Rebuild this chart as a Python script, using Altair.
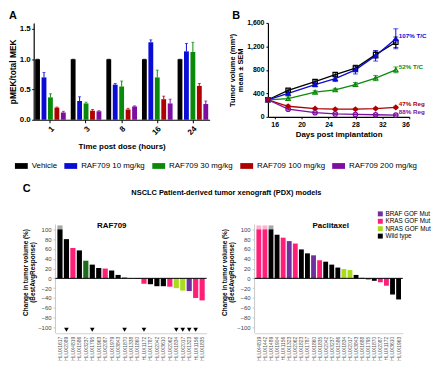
import altair as alt
import pandas as pd

FONT = "Liberation Sans"

panel_letters = ["A", "B", "C"]

# ---------------- Panel A : pMEK / total MEK ----------------
times = ["1", "3", "8", "16", "24"]
series = ["Vehicle", "RAF709 10 mg/kg", "RAF709 30 mg/kg", "RAF709 100 mg/kg", "RAF709 200 mg/kg"]
series_colors = ["#000000", "#0B0BD6", "#0A8A0A", "#B00000", "#7D0E9F"]

a_vehicle = [1.00, 1.00, 1.00, 1.00, 1.00]
a_10 = [0.70, 0.31, 0.58, 1.28, 1.13]
a_30 = [0.37, 0.27, 0.55, 0.70, 1.12]
a_100 = [0.20, 0.15, 0.17, 0.34, 0.56]
a_200 = [0.12, 0.14, 0.22, 0.27, 0.26]
a_err_vehicle = [0.0, 0.0, 0.0, 0.0, 0.0]
a_err_10 = [0.08, 0.07, 0.02, 0.04, 0.13]
a_err_30 = [0.06, 0.02, 0.09, 0.12, 0.16]
a_err_100 = [0.01, 0.02, 0.02, 0.05, 0.04]
a_err_200 = [0.02, 0.01, 0.01, 0.07, 0.05]
a_yticks = [0, 0.5, 1.0, 1.5]

# ---------------- Panel B : tumor volume ----------------
days = [15, 18, 22, 25, 28, 31, 34]
b_vehicle = [290, 450, 600, 720, 830, 1060, 1270]
b_10 = [290, 400, 550, 650, 800, 1040, 1330]
b_30 = [290, 310, 420, 460, 550, 660, 800]
b_100 = [290, 180, 140, 130, 130, 140, 160]
b_200 = [290, 130, 70, 50, 40, 35, 30]
b_sem_vehicle = [20, 25, 30, 35, 50, 60, 90]
b_sem_10 = [20, 40, 40, 50, 70, 90, 170]
b_sem_30 = [20, 30, 25, 25, 35, 45, 50]
b_sem_100 = [15, 20, 15, 15, 15, 15, 20]
b_sem_200 = [15, 15, 10, 10, 10, 10, 10]
b_end_labels = ["", "107% T/C", "52% T/C", "47% Reg", "88% Reg"]
b_shapes = ["square", "triangle-up", "triangle-up", "diamond", "circle"]
b_filled = ["RAF709 10 mg/kg", "RAF709 100 mg/kg"]
b_xticks = [16, 20, 24, 28, 32, 36]
b_yticks = [0, 400, 800, 1200, 1600]

# ---------------- Panel C : PDX waterfalls ----------------
c_header = "NSCLC Patient-derived tumor xenograft (PDX) models"
c_types = ["BRAF GOF Mut", "KRAS GOF Mut", "NRAS GOF Mut", "Wild type", "Other"]
c_type_colors = ["#7030A0", "#FF1F78", "#A8DC1C", "#000000", "#1C6E1C"]
c_yticks = list(range(-100, 101, 20))

raf_models = ["HLUX1617", "HLUX2089", "HLUX4819", "HLUX1586", "HLUX3237", "HLUX1795",
              "HLUX1963", "HLUX2087", "HLUX1979", "HLUX3843", "HLUX1870", "HLUX1338",
              "HLUX1860", "HLUX1172", "HLUX1787", "HLUX2042", "HLUX3610", "HLUX2062",
              "HLUX1834", "HLUX2017", "HLUX1323", "HLUX1156", "HLUX1835"]
raf_values = [108, 80, 62, 57, 36, 28, 21, 20, 16, 7, 1.5, -0.5, -1, -11, -12, -16, -16,
              -17, -20, -25, -26, -40, -45]
raf_types = ["Wild type", "Wild type", "KRAS GOF Mut", "Wild type", "Other", "Wild type",
             "Wild type", "KRAS GOF Mut", "Wild type", "Wild type", "Wild type", "Wild type",
             "Wild type", "KRAS GOF Mut", "Wild type", "Wild type", "Wild type", "KRAS GOF Mut",
             "NRAS GOF Mut", "NRAS GOF Mut", "BRAF GOF Mut", "KRAS GOF Mut", "KRAS GOF Mut"]
raf_marked = ["HLUX2089", "HLUX1795", "HLUX1870", "HLUX1172", "HLUX1834", "HLUX2017",
              "HLUX1323", "HLUX1156"]

pac_models = ["HLUX4819", "HLUX1442", "HLUX1489", "HLUX1904", "HLUX1156", "HLUX1323",
              "HLUX2062", "HLUX1823", "HLUX1787", "HLUX1860", "HLUX1835", "HLUX2042",
              "HLUX3237", "HLUX1586", "HLUX1834", "HLUX2017", "HLUX3843", "HLUX1688",
              "HLUX1795", "HLUX1870", "HLUX2087", "HLUX1172", "HLUX3610", "HLUX1963"]
pac_values = [108, 108, 108, 89, 83, 76, 71, 59, 51, 47, 37, 34, 28, 22, 19, 17, 7, 1,
              -2, -5, -8, -15, -33, -43]
pac_types = ["KRAS GOF Mut", "KRAS GOF Mut", "Wild type", "Wild type", "KRAS GOF Mut",
             "BRAF GOF Mut", "KRAS GOF Mut", "Wild type", "Wild type", "BRAF GOF Mut",
             "KRAS GOF Mut", "Wild type", "Wild type", "Wild type", "NRAS GOF Mut",
             "NRAS GOF Mut", "Wild type", "Wild type", "Wild type", "Wild type",
             "KRAS GOF Mut", "KRAS GOF Mut", "Wild type", "Wild type"]
pac_marked = []

# ================= build tables =================
rowsA = []
for s, vals, errs in zip(series, [a_vehicle, a_10, a_30, a_100, a_200],
                         [a_err_vehicle, a_err_10, a_err_30, a_err_100, a_err_200]):
    for t, v, e in zip(times, vals, errs):
        rowsA.append({"time": t, "series": s, "value": v, "hi": v + e})
dfA = pd.DataFrame(rowsA)

rowsB = []
for s, vals, sems, lab in zip(series, [b_vehicle, b_10, b_30, b_100, b_200],
                              [b_sem_vehicle, b_sem_10, b_sem_30, b_sem_100, b_sem_200],
                              b_end_labels):
    for i, (d, v, e) in enumerate(zip(days, vals, sems)):
        rowsB.append({"day": d, "series": s, "vol": v, "lo": max(v - e, 0), "hi": v + e,
                      "label": lab if i == len(days) - 1 else ""})
dfB = pd.DataFrame(rowsB)

letters_df = pd.DataFrame({"letter": panel_letters})
series_scale = alt.Scale(domain=series, range=series_colors)
color_ab = alt.Color("series:N", sort=series, scale=series_scale, legend=None)


def panel_letter(letter, x, y, baseline="top"):
    return alt.Chart(letters_df).transform_filter(
        alt.datum.letter == letter
    ).mark_text(align="left", baseline=baseline, fontSize=11, fontWeight="bold",
                font=FONT, color="black").encode(text="letter:N", x=alt.value(x),
                                                  y=alt.value(y))


# ----- Panel A -----
xA = alt.X("time:N", sort=times,
           scale=alt.Scale(paddingInner=0.14, paddingOuter=0.04),
           axis=alt.Axis(title="Time post dose (hours)", labelAngle=315, labelPadding=2,
                         labelFontSize=8, tickSize=3, labelOverlap=False, titlePadding=6))
xoA = alt.XOffset("series:N", sort=series, scale=alt.Scale(paddingInner=0.25))
yA = alt.Y("value:Q", scale=alt.Scale(domain=[0, 1.5]),
           axis=alt.Axis(values=a_yticks, tickCount=len(a_yticks), format=".1f",
                         title="pMEK/total MEK", titleFontSize=8.5, labelFontSize=8,
                         tickSize=2, labelPadding=1.5, titlePadding=2, labelOverlap=False))
baseA = alt.Chart(dfA)
barsA = baseA.mark_bar().encode(x=xA, xOffset=xoA, y=yA, color=color_ab)
errA = baseA.mark_rule(strokeWidth=1).encode(x=xA, xOffset=xoA, y="value:Q", y2="hi:Q",
                                             color=color_ab)
capA = baseA.mark_tick(thickness=1, size=3).encode(x=xA, xOffset=xoA, y="hi:Q",
                                                   color=color_ab)
chartA = alt.layer(barsA, errA, capA, panel_letter("A", -25, -13)).properties(
    width=178, height=98)

# ----- Panel B -----
xB = alt.X("day:Q", scale=alt.Scale(domain=[15, 36], nice=False, zero=False),
           axis=alt.Axis(values=b_xticks, tickCount=len(b_xticks),
                         title="Days post implantation", labelFontSize=7, tickSize=2,
                         labelPadding=2, labelOverlap=False))
yB = alt.Y("vol:Q", scale=alt.Scale(domain=[0, 1600]),
           axis=alt.Axis(values=b_yticks, tickCount=len(b_yticks), format=",.0f",
                         title=["Tumor volume (mm³)", "mean ± SEM"], titleFontSize=7.5,
                         titleLineHeight=8, labelFontSize=7, tickSize=2, labelPadding=2,
                         titlePadding=2, labelOverlap=False))
shapeB = alt.Shape("series:N", scale=alt.Scale(domain=series, range=b_shapes), legend=None)
baseB = alt.Chart(dfB)
lineB = baseB.mark_line(strokeWidth=1.3).encode(x=xB, y=yB, color=color_ab)
errB = baseB.mark_rule(strokeWidth=1).encode(x=xB, y=alt.Y("lo:Q"), y2="hi:Q", color=color_ab)
capLoB = baseB.mark_tick(orient="horizontal", size=5, thickness=1).encode(
    x=xB, y=alt.Y("lo:Q"), color=color_ab)
capHiB = baseB.mark_tick(orient="horizontal", size=5, thickness=1).encode(
    x=xB, y=alt.Y("hi:Q"), color=color_ab)
ptsB = baseB.mark_point(filled=False, size=20, strokeWidth=1.2, opacity=1).encode(
    x=xB, y=yB, color=color_ab, shape=shapeB)
ptsFB = baseB.transform_filter(
    alt.FieldOneOfPredicate(field="series", oneOf=b_filled)
).mark_point(filled=True, size=20, opacity=1).encode(x=xB, y=yB, color=color_ab, shape=shapeB)
labB = baseB.transform_filter("datum.label != ''").mark_text(
    align="left", dx=3, dy=-3, fontSize=6.3, fontWeight="bold", font=FONT
).encode(x=xB, y=yB, text="label:N", color=color_ab)
chartB = alt.layer(errB, capLoB, capHiB, lineB, ptsB, ptsFB, labB,
                   panel_letter("B", -36, -13)).properties(width=143, height=95)

rowAB = alt.hconcat(chartA, chartB, spacing=19)

# ----- legend strip + panel C headings -----
legend_df = pd.DataFrame({"series": series})
legend_marks = alt.Chart(legend_df).mark_square(size=0, opacity=0).encode(
    color=alt.Color("series:N", sort=series, scale=series_scale,
                    legend=alt.Legend(title=None, orient="none", legendX=-19, legendY=0,
                                      direction="horizontal",
                                      symbolType="M-1,-0.45H1V0.45H-1Z", symbolSize=169,
                                      symbolStrokeWidth=0, symbolOpacity=1,
                                      labelFont=FONT, labelFontSize=8, labelColor="black",
                                      labelOffset=4, columnPadding=7, padding=0)))
head_df = pd.DataFrame({"header": [c_header]})
header_c = alt.Chart(head_df).mark_text(
    align="center", baseline="alphabetic", fontSize=7.5, fontWeight="bold", font=FONT,
    color="black").encode(text="header:N", x=alt.value(195), y=alt.value(36))
legendRow = alt.layer(legend_marks, panel_letter("C", -11, 33.5, "alphabetic"),
                      header_c).properties(width=1, height=43)


# ----- Panel C -----
def waterfall(models, values, types, marked, name, width, left, title_dx, legend):
    df = pd.DataFrame({"model": models, "value": values, "type": types})
    df["marked"] = df["model"].isin(marked)
    base = alt.Chart(df)
    color = alt.Color("type:N", scale=alt.Scale(domain=c_types, range=c_type_colors),
                      legend=legend)
    x = alt.X("model:N", sort=models, title=None,
              scale=alt.Scale(paddingInner=0.2, paddingOuter=0.3, range=[left, width]),
              axis=alt.Axis(labelAngle=270, labelFontSize=5, labelColor="#555",
                            labelFontWeight="normal", ticks=False, domainColor="#d0d0d0",
                            domainWidth=1, labelPadding=3, labelOverlap=False))
    y = alt.Y("shown:Q", scale=alt.Scale(domain=[-112, 138], nice=False),
              axis=alt.Axis(values=c_yticks, tickCount=len(c_yticks),
                            title=["Change in tumor volume (%)", "(BestAvgResponse)"],
                            labelFontSize=6, labelFontWeight="normal", labelColor="#444",
                            domain=False, tickColor="#c8c8c8", tickSize=2.5,
                            titleFontSize=6.5, titleLineHeight=7.5, labelPadding=2,
                            titlePadding=2, labelOverlap=False, offset=-left))
    bars = base.transform_calculate(shown="min(datum.value, 100)").mark_bar().encode(
        x=x, y=y, color=color)
    over = base.transform_filter("datum.value > 100").transform_calculate(
        shown="100").mark_bar(opacity=0.35).encode(x=x, y=y, y2="value:Q", color=color)
    summary = base.transform_aggregate(n="count()")
    zero = summary.mark_rule(color="black", strokeWidth=1).encode(
        y=alt.datum(0), x=alt.value(left), x2=alt.value(width))
    yline = summary.mark_rule(color="#c8c8c8", strokeWidth=1).encode(
        x=alt.value(left), y=alt.datum(110), y2=alt.datum(-112))
    layers = [yline, bars, over, zero]
    if marked:
        tri = base.transform_filter("datum.marked").mark_point(
            shape="triangle-down", filled=True, color="black", size=22, opacity=1
        ).encode(x=x, y=alt.datum(-105))
        layers.append(tri)
    return alt.layer(*layers).properties(
        width=width, height=124,
        title=alt.TitleParams(name, fontSize=8, fontWeight="bold", offset=-20,
                              dx=title_dx, anchor="middle", frame="group"),
    )


legend_c = alt.Legend(title=None, orient="none", legendX=124, legendY=0,
                      values=c_types[:4], symbolType="square", symbolSize=25,
                      symbolStrokeWidth=0, symbolOpacity=1, labelFont=FONT,
                      labelFontSize=6.4, labelColor="black", labelOffset=2,
                      rowPadding=0.5, padding=0)
chartC1 = waterfall(raf_models, raf_values, raf_types, raf_marked, "RAF709", 175, 22, -8.5,
                    None)
chartC2 = waterfall(pac_models, pac_values, pac_types, pac_marked, "Paclitaxel", 150, 0, 2,
                    legend_c)

rowC = alt.hconcat(chartC1, chartC2, spacing=13.5).resolve_scale(
    color="independent").resolve_legend(color="independent")

chart = alt.vconcat(rowAB, legendRow, rowC, spacing=9).resolve_scale(
    color="independent"
).properties(padding=0).configure(font=FONT).configure_view(
    stroke=None
).configure_axis(
    grid=False, labelFont=FONT, titleFont=FONT, labelColor="black", titleColor="black",
    domainColor="black", tickColor="black", labelFontSize=7.5, labelFontWeight="bold",
    titleFontSize=8, titleFontWeight="bold", tickSize=3, domainWidth=1.2, titlePadding=3,
    labelOverlap=False,
).configure_title(font=FONT, color="black")

chart.save("out.html", embed_options={"renderer": "svg", "actions": False})
